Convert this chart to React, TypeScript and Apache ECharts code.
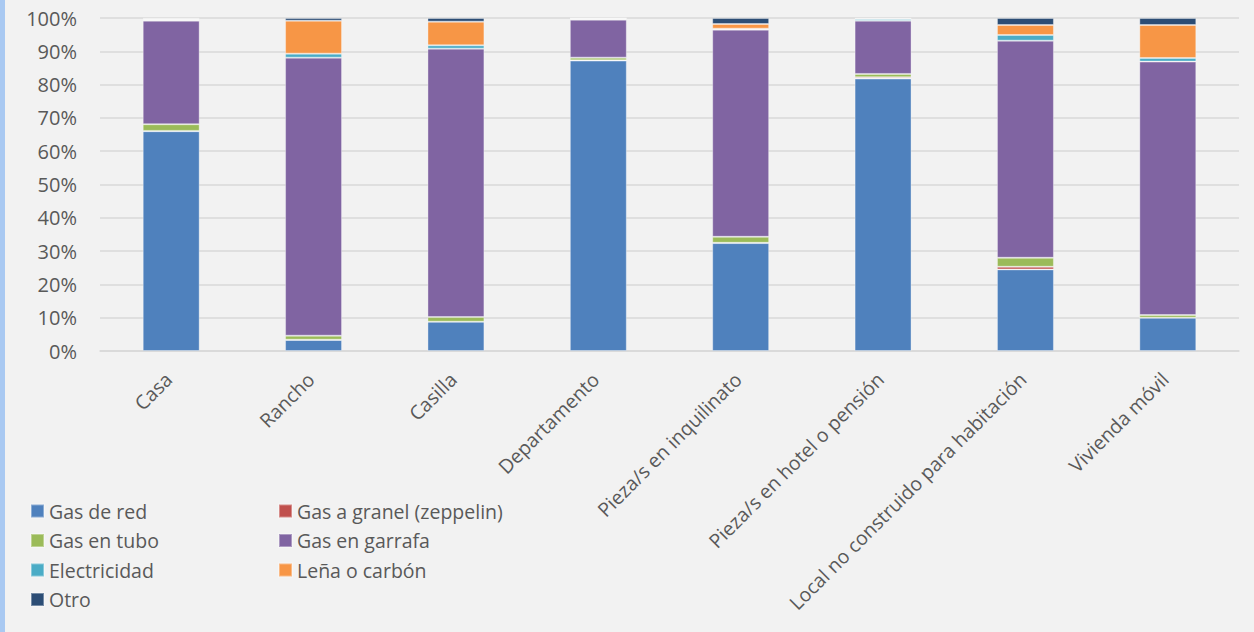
import React, { useEffect, useRef } from "react";
import * as echarts from "echarts";

const categories = [
  "Casa",
  "Rancho",
  "Casilla",
  "Departamento",
  "Pieza/s en inquilinato",
  "Pieza/s en hotel o pensión",
  "Local no construido para habitación",
  "Vivienda móvil",
];

const seriesNames = [
  "Gas de red",
  "Gas a granel (zeppelin)",
  "Gas en tubo",
  "Gas en garrafa",
  "Electricidad",
  "Leña o carbón",
  "Otro",
];

const gasDeRed = [66.0, 3.3, 8.8, 87.2, 32.4, 81.8, 24.5, 10.0];
const gasGranel = [0.1, 0.1, 0.0, 0.1, 0.1, 0.4, 0.8, 0.0];
const gasTubo = [2.0, 1.2, 1.4, 0.8, 1.8, 1.0, 2.7, 0.8];
const gasGarrafa = [31.1, 83.5, 80.6, 11.4, 62.2, 16.0, 65.2, 76.1];
const electricidad = [0.3, 1.2, 1.0, 0.3, 0.3, 0.5, 1.7, 1.1];
const lenaCarbon = [0.3, 9.9, 7.1, 0.1, 1.4, 0.1, 3.0, 9.9];
const otro = [0.2, 0.8, 1.1, 0.1, 1.8, 0.2, 2.1, 2.1];

const seriesValues = [gasDeRed, gasGranel, gasTubo, gasGarrafa, electricidad, lenaCarbon, otro];
const colors = ["#4F81BD", "#C0504D", "#9BBB59", "#8064A2", "#4BACC6", "#F79646", "#2C4D75"];

const yTicks = [0, 10, 20, 30, 40, 50, 60, 70, 80, 90, 100];

const FONT = "'Open Sans', sans-serif";
const TEXT = "#595959";

export default function App() {
  const ref = useRef<HTMLDivElement>(null);
  useEffect(() => {
    if (!ref.current) return;
    const chart = echarts.init(ref.current, null, { renderer: "svg" });
    const legendText = { color: TEXT, fontSize: 19.5, fontFamily: FONT, lineHeight: 20 };
    chart.setOption({
      animation: false,
      backgroundColor: "#F2F2F2",
      color: colors,
      textStyle: { fontFamily: FONT },
      graphic: [
        {
          type: "rect",
          left: 0,
          top: 0,
          shape: { x: 0, y: 0, width: 5, height: 632 },
          style: { fill: "#A9C9F2" },
          silent: true,
        },
      ],
      grid: { left: 100, right: 15, top: 18, bottom: 281, containLabel: false },
      legend: [
        {
          orient: "vertical",
          left: 30,
          top: 501,
          padding: 0,
          itemWidth: 13,
          itemHeight: 13,
          itemGap: 9.5,
          icon: "rect",
          data: [seriesNames[0], seriesNames[2], seriesNames[4], seriesNames[6]],
          textStyle: legendText,
        },
        {
          orient: "vertical",
          left: 278,
          top: 501,
          padding: 0,
          itemWidth: 13,
          itemHeight: 13,
          itemGap: 9.5,
          icon: "rect",
          data: [seriesNames[1], seriesNames[3], seriesNames[5]],
          textStyle: legendText,
        },
      ],
      xAxis: {
        type: "category",
        data: categories,
        axisLine: { show: true, lineStyle: { color: "#D9D9D9", width: 1.5 } },
        axisTick: { show: false },
        axisLabel: {
          rotate: 45,
          interval: 0,
          color: TEXT,
          fontSize: 19.5,
          fontFamily: FONT,
          margin: 22,
          padding: [0, 4, 0, 0],
        },
      },
      yAxis: {
        type: "value",
        min: yTicks[0],
        max: yTicks[yTicks.length - 1],
        interval: 10,
        axisLine: { show: false },
        axisTick: { show: false },
        splitLine: { lineStyle: { color: "#D9D9D9", width: 1.5 } },
        axisLabel: {
          color: TEXT,
          fontSize: 20,
          fontFamily: FONT,
          margin: 23,
          formatter: (v: number) => `${v}%`,
        },
      },
      series: seriesNames.map((name, i) => ({
        name,
        type: "bar",
        stack: "total",
        barWidth: "40%",
        data: seriesValues[i],
        itemStyle: {
          color: colors[i],
          borderColor: "rgba(255,255,255,0.35)",
          borderWidth: 1,
        },
      })),
    });
    return () => chart.dispose();
  }, []);
  return (
    <div
      ref={ref}
      style={{ position: "absolute", left: 0, top: 0, width: 1254, height: 632 }}
    />
  );
}
